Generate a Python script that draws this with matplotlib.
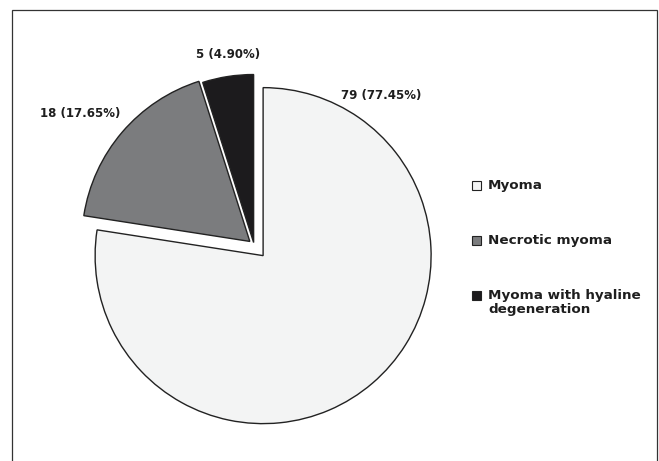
import matplotlib.pyplot as plt
from matplotlib.patches import Rectangle

# tumour classes and case counts
categories = ['Myoma', 'Necrotic myoma', 'Myoma with hyaline\ndegeneration']
counts = [79, 18, 5]

face_colors = ['#f3f4f4', '#7b7c7e', '#1c1b1d']
edge_color = '#222222'
text_color = '#1e1e1e'

# canvas in pixel units so the layout is easy to place
W, H = 659, 461
fig = plt.figure(figsize=(W / 100, H / 100), dpi=100)
ax = fig.add_axes([0, 0, 1, 1])

wedges, _ = ax.pie(counts, colors=face_colors, explode=[14, 5.5, 2.5],
                   startangle=90, counterclock=False, radius=168,
                   center=(254, 216),
                   wedgeprops=dict(edgecolor=edge_color, linewidth=1.0))
ax.set_xlim(0, W)
ax.set_ylim(0, H)
ax.set_aspect('equal')
ax.axis('off')

# value labels: "count (percent%)"
total = sum(counts)
label_pos = [(381, 366), (80, 347), (228, 406)]
for n, (lx, ly) in zip(counts, label_pos):
    ax.text(lx, ly, f'{n} ({100 * n / total:.2f}%)', ha='center', va='center',
            fontsize=8.5, fontweight='bold', color=text_color)

# legend drawn by hand so the box sits on the first line of each entry
row_mid = [275, 220, 165.5]
for name, fc, ym in zip(categories, face_colors, row_mid):
    ax.add_patch(Rectangle((472, ym - 4.5), 9, 9, facecolor=fc,
                           edgecolor=edge_color, linewidth=0.8))
    ax.text(488, ym + 6.5, name, ha='left', va='top', fontsize=9.7,
            fontweight='bold', color=text_color, linespacing=1.15)

# outer frame, open at the bottom
ax.add_patch(Rectangle((12, -20), 645, 471, fill=False,
                       edgecolor='#333333', linewidth=0.9))

fig.savefig('out.png', dpi=100, facecolor='white')
